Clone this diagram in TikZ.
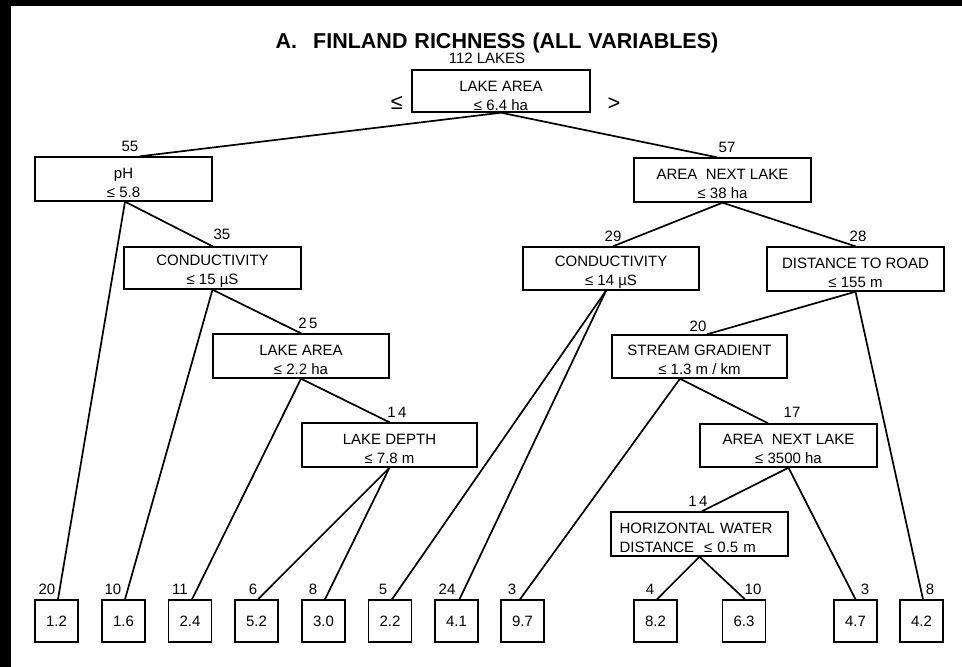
\documentclass[tikz,border=0pt]{standalone}
\usepackage{fontspec}
\setmainfont{Liberation Sans}
\usetikzlibrary{calc}
\newcommand{\topstrut}[1][18pt]{\rule{0pt}{#1}}
\begin{document}
\begin{tikzpicture}[x=1pt,y=-1pt,
  box/.style={draw, line width=1.4pt, minimum width=177pt, minimum height=43pt, inner sep=0pt, align=center, font=\fontsize{15}{19}\selectfont},
  leaf/.style={draw, line width=1.4pt, minimum width=43pt, minimum height=42pt, inner sep=0pt, font=\fontsize{15}{18}\selectfont},
  cnt/.style={font=\fontsize{15}{18}\selectfont, inner sep=0pt},
  edge/.style={line width=1.7pt}]
\useasboundingbox (0,0) rectangle (962,667);
\fill[white] (0,0) rectangle (962,667);
\fill[black] (0,0) rectangle (11,667);
\fill[black] (0,0) rectangle (962,6);

\node[inner sep=0pt] (title) at (497,43) {\fontsize{21.5}{24}\selectfont\bfseries A.\hspace{16pt}FINLAND\hspace{1pt} RICHNESS\hspace{1pt} (ALL\hspace{1pt} VARIABLES)};
\node[cnt] (lakes) at (487,58) {112 LAKES};

% internal nodes
\node[box, minimum width=178pt, minimum height=42pt] (root) at (501,91) {\topstrut[21pt]LAKE AREA\\ ≤ 6.4 ha};
\node[font=\fontsize{22}{24}\selectfont, inner sep=0pt] (le) at (397,103) {≤};
\node[font=\fontsize{22}{24}\selectfont, inner sep=0pt] (gt) at (614,104) {>};

\node[box, minimum height=44pt] (ph) at (123.5,179) {\topstrut pH\\ ≤ 5.8};
\node[box, minimum height=44pt] (anl) at (722.5,180) {\topstrut AREA\ \ NEXT LAKE\\ ≤ 38 ha};
\node[box, minimum height=42pt] (c35) at (212.5,268) {\topstrut CONDUCTIVITY\\ ≤ 15 µS};
\node[box, minimum width=176pt] (c29) at (611,268.5) {\topstrut CONDUCTIVITY\\ ≤ 14 µS};
\node[box, minimum height=44pt] (dtr) at (855.5,269) {\topstrut DISTANCE TO ROAD\\ ≤ 155 m};
\node[box, minimum width=176pt, minimum height=44pt] (la) at (301,356) {\topstrut LAKE AREA\\ ≤ 2.2 ha};
\node[box, minimum width=175pt] (sg) at (699.5,356.5) {\topstrut STREAM GRADIENT\\ ≤ 1.3 m / km};
\node[box, minimum width=175pt, minimum height=44pt] (ld) at (389.5,445) {\topstrut LAKE DEPTH\\ ≤ 7.8 m};
\node[box] (anl2) at (788.5,445.5) {\topstrut AREA\ \ NEXT LAKE\\ ≤ 3500 ha};
\node[box, minimum height=44pt, text width=160pt, inner xsep=8.5pt, align=left] (hwd) at (699.5,534) {\topstrut HORIZONTAL WATER\\ DISTANCE\ \ ≤ 0.5 m};

% count labels
\node[cnt] (n55) at (130,146) {55};
\node[cnt] (n57) at (727,147) {57};
\node[cnt] (n35) at (222,234) {35};
\node[cnt] (n29) at (613,236) {29};
\node[cnt] (n28) at (858,236) {28};
\node[cnt] (n25) at (308,323) {2\,5};
\node[cnt] (n20) at (698,326) {20};
\node[cnt] (n14a) at (397,412) {1\,4};
\node[cnt] (n17) at (792,412) {17};
\node[cnt] (n14b) at (698,501) {1\,4};

% leaves
\node[leaf] (l1) at (56.5,621) {1.2};
\node[leaf] (l2) at (123.5,621) {1.6};
\node[leaf] (l3) at (190,621) {2.4};
\node[leaf] (l4) at (256.5,621) {5.2};
\node[leaf] (l5) at (323.5,621) {3.0};
\node[leaf] (l6) at (390,621) {2.2};
\node[leaf] (l7) at (456.5,621) {4.1};
\node[leaf] (l8) at (522.5,621) {9.7};
\node[leaf] (l9) at (655.5,621) {8.2};
\node[leaf] (l10) at (744,621) {6.3};
\node[leaf] (l11) at (855.5,621) {4.7};
\node[leaf] (l12) at (921.5,621) {4.2};

% leaf counts
\node[cnt] (m1) at (47,589) {20};
\node[cnt] (m2) at (113,589) {10};
\node[cnt] (m3) at (180,589) {11};
\node[cnt] (m4) at (253,589) {6};
\node[cnt] (m5) at (313,589) {8};
\node[cnt] (m6) at (383,589) {5};
\node[cnt] (m7) at (447,589) {24};
\node[cnt] (m8) at (512,589) {3};
\node[cnt] (m9) at (650,589) {4};
\node[cnt] (m10) at (753,589) {10};
\node[cnt] (m11) at (865,589) {3};
\node[cnt] (m12) at (930,589) {8};

% connectors
\draw[edge] (root.south) -- ($(ph.north)+(16.5,0)$);
\draw[edge] (root.south) -- ($(anl.north)+(-5.5,0)$);
\draw[edge] ($(ph.south)+(1.5,0)$) -- ($(l1.north)+(1.5,0)$);
\draw[edge] ($(ph.south)+(1.5,0)$) -- (c35.north);
\draw[edge] (c35.south) -- ($(l2.north)+(1.5,0)$);
\draw[edge] (c35.south) -- (la.north);
\draw[edge] (la.south) -- ($(l3.north)+(2,0)$);
\draw[edge] (la.south) -- (ld.north);
\draw[edge] (ld.south) -- ($(l4.north)+(1.5,0)$);
\draw[edge] (ld.south) -- ($(l5.north)+(1.5,0)$);
\draw[edge] (anl.south) -- ($(c29.north)+(2,0)$);
\draw[edge] (anl.south) -- (dtr.north);
\draw[edge] ($(c29.south)+(-5,0)$) -- ($(l6.north)+(2,0)$);
\draw[edge] ($(c29.south)+(-5,0)$) -- ($(l7.north)+(3,0)$);
\draw[edge] (dtr.south) -- ($(sg.north)+(7.5,0)$);
\draw[edge] (dtr.south) -- ($(l12.north)+(1.5,0)$);
\draw[edge] ($(sg.south)+(-19.5,0)$) -- ($(l8.north)+(-2.5,0)$);
\draw[edge] ($(sg.south)+(-19.5,0)$) -- ($(anl2.north)+(-20.5,0)$);
\draw[edge] (anl2.south) -- ($(hwd.north)+(2.5,0)$);
\draw[edge] (anl2.south) -- (l11.north);
\draw[edge] (hwd.south) -- ($(l9.north)+(1.5,0)$);
\draw[edge] (hwd.south) -- ($(l10.north)+(1,0)$);
\end{tikzpicture}
\end{document}
